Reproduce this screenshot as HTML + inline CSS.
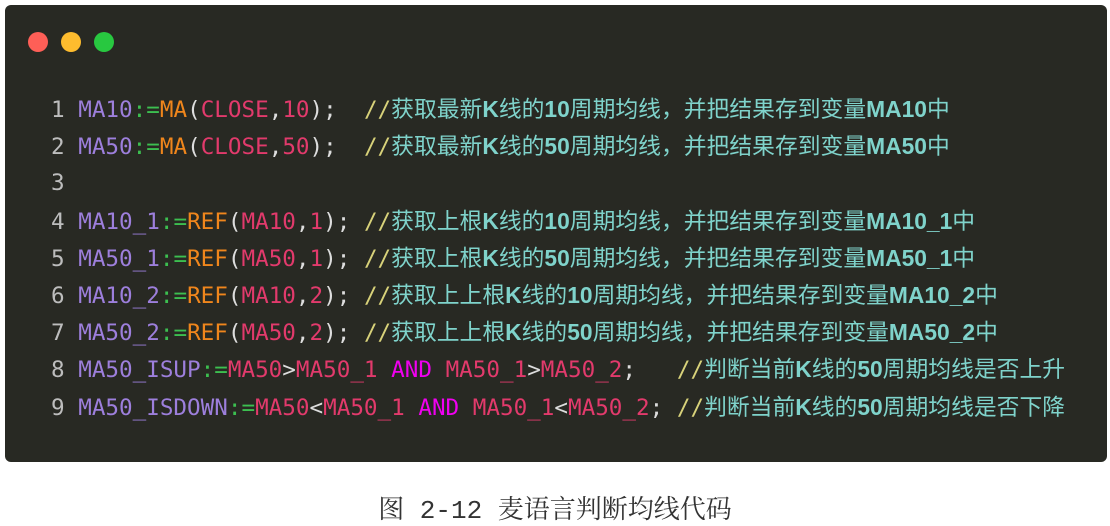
<!DOCTYPE html>
<html><head><meta charset="utf-8"><style>
body{margin:0;width:1110px;height:524px;background:#fff;position:relative;overflow:hidden}
.box{position:absolute;left:5px;top:5px;width:1102px;height:457px;background:#282923;border-radius:6px}
.dot{position:absolute;top:27px;width:20px;height:20px;border-radius:50%}
.code{position:absolute;left:51px;top:91px;font-family:"DejaVu Sans Mono","Liberation Mono",monospace;font-size:22.6px;line-height:37.2px;color:#ddd;white-space:pre}
.code div{height:37.2px}
.n{color:#bdbdbd}.v{color:#9d7fdc}.o{color:#3cbf50}.f{color:#f0861c}.p{color:#e23a6c}.a{color:#f000f0}.s{color:#d8d27a}
.c{color:#7fd3cb;font-family:"Liberation Sans","Noto Sans CJK SC",sans-serif;font-size:22.8px}
.c b{font-weight:bold}
.cap{position:absolute;top:489px;left:0;width:1110px;text-align:center;font-family:"Liberation Mono","Noto Serif CJK SC",serif;font-size:26px;color:#333}
</style></head><body>
<div class="box">
<div class="dot" style="left:23px;background:#fe5f57"></div>
<div class="dot" style="left:56px;background:#febc2e"></div>
<div class="dot" style="left:89px;background:#28c840"></div>
</div>
<div class="code"><div><span class="n">1 </span><span class="v">MA10</span><span class="o">:=</span><span class="f">MA</span>(<span class="p">CLOSE</span>,<span class="p">10</span>);  <span class="s">//</span><span class="c">获取最新<b>K</b>线的<b>10</b>周期均线，并把结果存到变量<b>MA10</b>中</span></div><div><span class="n">2 </span><span class="v">MA50</span><span class="o">:=</span><span class="f">MA</span>(<span class="p">CLOSE</span>,<span class="p">50</span>);  <span class="s">//</span><span class="c">获取最新<b>K</b>线的<b>50</b>周期均线，并把结果存到变量<b>MA50</b>中</span></div><div><span class="n">3</span></div><div><span class="n">4 </span><span class="v">MA10_1</span><span class="o">:=</span><span class="f">REF</span>(<span class="p">MA10</span>,<span class="p">1</span>); <span class="s">//</span><span class="c">获取上根<b>K</b>线的<b>10</b>周期均线，并把结果存到变量<b>MA10_1</b>中</span></div><div><span class="n">5 </span><span class="v">MA50_1</span><span class="o">:=</span><span class="f">REF</span>(<span class="p">MA50</span>,<span class="p">1</span>); <span class="s">//</span><span class="c">获取上根<b>K</b>线的<b>50</b>周期均线，并把结果存到变量<b>MA50_1</b>中</span></div><div><span class="n">6 </span><span class="v">MA10_2</span><span class="o">:=</span><span class="f">REF</span>(<span class="p">MA10</span>,<span class="p">2</span>); <span class="s">//</span><span class="c">获取上上根<b>K</b>线的<b>10</b>周期均线，并把结果存到变量<b>MA10_2</b>中</span></div><div><span class="n">7 </span><span class="v">MA50_2</span><span class="o">:=</span><span class="f">REF</span>(<span class="p">MA50</span>,<span class="p">2</span>); <span class="s">//</span><span class="c">获取上上根<b>K</b>线的<b>50</b>周期均线，并把结果存到变量<b>MA50_2</b>中</span></div><div><span class="n">8 </span><span class="v">MA50_ISUP</span><span class="o">:=</span><span class="p">MA50</span>&gt;<span class="p">MA50_1</span> <span class="a">AND</span> <span class="p">MA50_1</span>&gt;<span class="p">MA50_2</span>;   <span class="s">//</span><span class="c">判断当前<b>K</b>线的<b>50</b>周期均线是否上升</span></div><div><span class="n">9 </span><span class="v">MA50_ISDOWN</span><span class="o">:=</span><span class="p">MA50</span>&lt;<span class="p">MA50_1</span> <span class="a">AND</span> <span class="p">MA50_1</span>&lt;<span class="p">MA50_2</span>; <span class="s">//</span><span class="c">判断当前<b>K</b>线的<b>50</b>周期均线是否下降</span></div></div>
<div class="cap">图 2-12 麦语言判断均线代码</div>
</body></html>
